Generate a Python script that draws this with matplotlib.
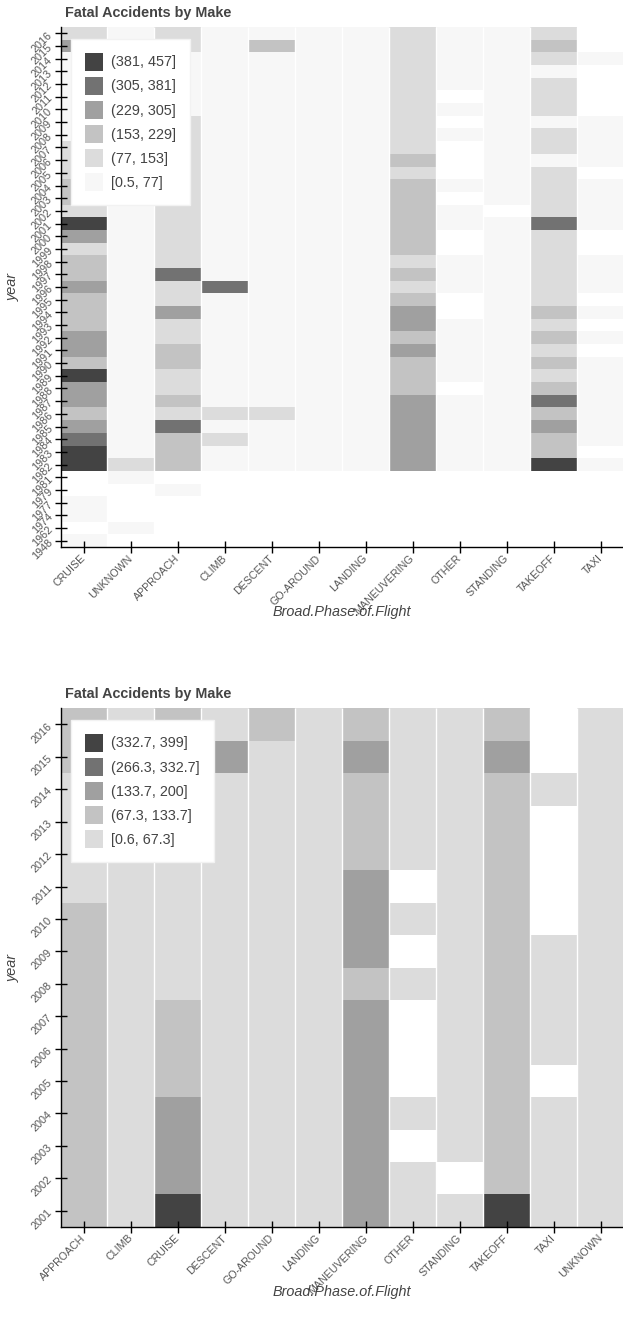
"""Fatal accident heatmaps: broad phase of flight against event year.

Top panel covers every year in the record, bottom panel keeps 2001 onward.
Cells are binned into six equal-width count classes (pandas.cut), the way
the interactive version of this chart bins them.
"""

import numpy as np
import pandas as pd
import matplotlib

matplotlib.use("Agg")
import matplotlib.pyplot as plt
from matplotlib.colors import BoundaryNorm, ListedColormap
from matplotlib.patches import Patch

plt.rcParams["font.family"] = ["Liberation Sans", "DejaVu Sans"]

NAN = np.nan

# event years, newest first
YEARS = [
    2016, 2015, 2014, 2013, 2012, 2011, 2010, 2009, 2008, 2007,
    2006, 2005, 2004, 2003, 2002, 2001, 2000, 1999, 1998, 1997,
    1996, 1995, 1994, 1993, 1992, 1991, 1990, 1989, 1988, 1987,
    1986, 1985, 1984, 1983, 1982, 1981, 1979, 1977, 1974, 1962, 1948,
]

# fatal counts per phase, same year order as YEARS (NaN = no record)
CRUISE = [105, 290, 55, 48, 52, 45, 50, 40, 58, 95,
          110, 100, 180, 170, 145, 399, 260, 130, 200, 190,
          275, 210, 195, 215, 250, 265, 220, 410, 280, 270,
          225, 295, 350, 430, 457, NAN, NAN, 2, 1, NAN, 3]
UNKNOWN = [12, 15, 10, 14, 18, 11, 16, 20, 13, 17,
           22, 19, 25, 21, 24, 30, 28, 35, 32, 40,
           38, 45, 42, 50, 48, 55, 52, 60, 58, 62,
           65, 70, 68, 72, 95, 4, NAN, NAN, NAN, 1, NAN]
APPROACH = [90, 85, 50, 45, 55, 60, 72, 95, 100, 110,
            105, 120, 115, 125, 118, 130, 140, 135, 145, 330,
            150, 140, 240, 145, 138, 180, 170, 150, 140, 185,
            148, 320, 200, 210, 190, NAN, 1, NAN, NAN, NAN, NAN]
CLIMB = [20, 25, 18, 22, 30, 15, 28, 24, 26, 32,
         35, 30, 38, 40, 36, 45, 50, 55, 48, 60,
         340, 58, 62, 55, 65, 60, 70, 66, 72, 68,
         90, 64, 85, 70, 75, NAN, NAN, NAN, NAN, NAN, NAN]
DESCENT = [30, 170, 25, 20, 28, 22, 18, 24, 30, 26,
           32, 28, 35, 30, 38, 34, 40, 42, 45, 38,
           50, 48, 52, 55, 46, 58, 60, 54, 62, 58,
           95, 60, 65, 70, 68, NAN, NAN, NAN, NAN, NAN, NAN]
GO_AROUND = [70, 20, 18, 15, 22, 25, 19, 24, 21, 26,
             23, 28, 30, 27, 32, 29, 30, 35, 32, 38,
             36, 40, 42, 39, 45, 41, 48, 44, 50, 46,
             52, 55, 50, 58, 60, NAN, NAN, NAN, NAN, NAN, NAN]
LANDING = [15, 18, 12, 16, 20, 14, 22, 19, 24, 21,
           26, 23, 28, 25, 30, 27, 32, 30, 35, 33,
           38, 36, 40, 37, 42, 39, 45, 41, 48, 44,
           50, 46, 52, 55, 58, NAN, NAN, NAN, NAN, NAN, NAN]
MANEUVERING = [120, 145, 125, 118, 130, 140, 148, 142, 128, 150,
               165, 146, 175, 185, 170, 190, 200, 210, 150, 205,
               148, 220, 250, 245, 225, 260, 215, 228, 210, 270,
               280, 265, 290, 300, 285, NAN, NAN, NAN, NAN, NAN, NAN]
OTHER = [1, 3, 2, 4, 2, NAN, 3, NAN, 2, NAN,
         NAN, NAN, 1, NAN, 2, 3, NAN, NAN, 4, 2,
         3, NAN, NAN, 5, 3, 4, 6, 2, NAN, 5,
         4, 6, 3, 7, 5, NAN, NAN, NAN, NAN, NAN, NAN]
STANDING = [3, 2, 4, 3, 5, 2, 4, 3, 6, 4,
            5, 3, 6, 4, NAN, 5, 4, 6, 5, 7,
            6, 8, 5, 7, 6, 9, 7, 8, 6, 10,
            8, 9, 7, 11, 9, NAN, NAN, NAN, NAN, NAN, NAN]
TAKEOFF = [110, 175, 100, 72, 95, 105, 90, 70, 115, 100,
           75, 110, 120, 105, 125, 360, 140, 130, 145, 135,
           150, 140, 175, 148, 190, 145, 180, 150, 195, 340,
           210, 250, 220, 200, 420, NAN, NAN, NAN, NAN, NAN, NAN]
TAXI = [NAN, NAN, 2, NAN, NAN, NAN, NAN, 1, 2, 3,
        2, NAN, 2, 3, 4, 3, NAN, NAN, 4, 3,
        5, NAN, 4, NAN, 5, NAN, 6, 4, 5, 7,
        6, 8, 5, NAN, 9, NAN, NAN, NAN, NAN, NAN, NAN]

# column order as the phases first appear in the full record
PHASES_ALL = ["CRUISE", "UNKNOWN", "APPROACH", "CLIMB", "DESCENT", "GO-AROUND",
              "LANDING", "MANEUVERING", "OTHER", "STANDING", "TAKEOFF", "TAXI"]

GREYS = ["#434343", "#727272", "#a0a0a0", "#c3c3c3", "#dcdcdc", "#f7f7f7"]
TEXT = "#444444"
TICK_TEXT = "#555555"

fatal = pd.DataFrame(
    {
        "CRUISE": CRUISE, "UNKNOWN": UNKNOWN, "APPROACH": APPROACH,
        "CLIMB": CLIMB, "DESCENT": DESCENT, "GO-AROUND": GO_AROUND,
        "LANDING": LANDING, "MANEUVERING": MANEUVERING, "OTHER": OTHER,
        "STANDING": STANDING, "TAKEOFF": TAKEOFF, "TAXI": TAXI,
    },
    index=YEARS,
)

W, H = 623, 1332
fig = plt.figure(figsize=(W / 100, H / 100), dpi=100)


def px_axes(left, top, right, bottom):
    return fig.add_axes([left / W, 1 - bottom / H, (right - left) / W, (bottom - top) / H])


def fmt_edge(v):
    return f"{round(v, 1):g}"


def heatmap(ax, table, title, legend_anchor):
    years = sorted(table.index)
    phases = list(table.columns)
    values = table.loc[years, phases].to_numpy(dtype=float)

    observed = values[~np.isnan(values)]
    _, edges = pd.cut(observed, bins=6, retbins=True)
    codes = pd.cut(values.ravel(), bins=edges, labels=False).reshape(values.shape)
    codes = np.ma.masked_invalid(codes)

    present = sorted({int(c) for c in codes.compressed()}, reverse=True)
    bin_colors = ["white"] * 6
    for rank, b in enumerate(present):
        bin_colors[b] = GREYS[rank]

    ax.pcolormesh(
        np.arange(len(phases) + 1) - 0.5,
        np.arange(len(years) + 1) - 0.5,
        codes,
        cmap=ListedColormap(bin_colors),
        norm=BoundaryNorm(np.arange(-0.5, 6.5), 6),
        edgecolors="none",
        antialiased=False,
    )
    ax.vlines(np.arange(0.5, len(phases) - 0.5), -0.5, len(years) - 0.5,
              colors="white", linewidth=1.0)
    ax.set_xlim(-0.5, len(phases) - 0.5)
    ax.set_ylim(-0.5, len(years) - 0.5)

    for side in ("top", "right"):
        ax.spines[side].set_visible(False)
    for side in ("left", "bottom"):
        ax.spines[side].set_linewidth(1.0)
        ax.spines[side].set_color("black")

    ax.set_xticks(np.arange(len(phases)))
    ax.set_xticklabels(phases, rotation=45, ha="right", va="center",
                       rotation_mode="anchor", fontsize=7.7, color=TICK_TEXT)
    ax.set_yticks(np.arange(len(years)))
    ax.set_yticklabels([str(y) for y in years], rotation=45, ha="right", va="center",
                       rotation_mode="anchor", fontsize=7.8, color=TICK_TEXT)
    ax.tick_params(axis="both", direction="inout", length=8, width=1, pad=3)

    ax.annotate(title, xy=(0, 1), xycoords="axes fraction", xytext=(4.5, 14),
                textcoords="offset pixels", ha="left", va="center",
                fontsize=10.4, fontweight="bold", color=TEXT)
    ax.annotate("Broad.Phase.of.Flight", xy=(0.5, 0), xycoords="axes fraction",
                xytext=(0, -65), textcoords="offset pixels", ha="center", va="center",
                fontsize=10.4, fontstyle="italic", color=TEXT)
    ax.annotate("year", xy=(0, 0.5), xycoords="axes fraction", xytext=(-48, 0),
                textcoords="offset pixels", ha="center", va="center", rotation=90,
                fontsize=10.4, fontstyle="italic", color=TEXT)

    handles, labels = [], []
    for b in present:
        lo = "[" if b == 0 else "("
        labels.append(f"{lo}{fmt_edge(edges[b])}, {fmt_edge(edges[b + 1])}]")
        handles.append(Patch(facecolor=bin_colors[b], edgecolor="none"))
    leg = ax.legend(handles, labels, loc="upper left", bbox_to_anchor=legend_anchor,
                    borderaxespad=0, frameon=True, fancybox=False, framealpha=1,
                    fontsize=10.4, handlelength=1.25, handleheight=1.54,
                    labelspacing=0.42, handletextpad=0.55, borderpad=0.95)
    leg.get_frame().set_facecolor("white")
    leg.get_frame().set_edgecolor("#f2f2f2")
    leg.get_frame().set_linewidth(1.0)
    for t in leg.get_texts():
        t.set_color(TEXT)


ax_all = px_axes(60.5, 27, 624, 547)
heatmap(ax_all, fatal[PHASES_ALL], "Fatal Accidents by Make", (0.0195, 0.977))

recent = fatal.loc[fatal.index >= 2001, sorted(PHASES_ALL)]
ax_recent = px_axes(60.5, 708.3, 624, 1226.7)
heatmap(ax_recent, recent, "Fatal Accidents by Make", (0.0195, 0.9774))

fig.savefig("out.png", dpi=100)
